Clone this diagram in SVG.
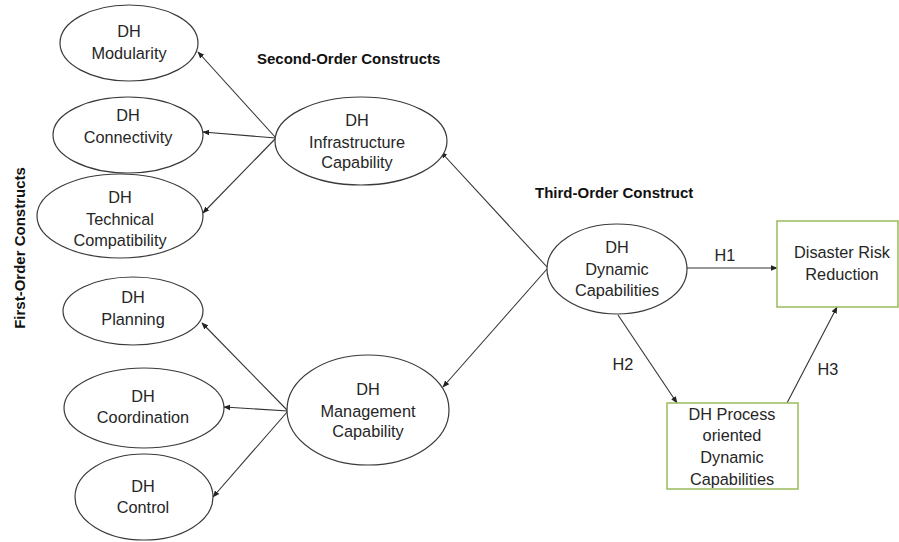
<svg xmlns="http://www.w3.org/2000/svg" width="899" height="542" viewBox="0 0 899 542">
<style>
.bg{fill:#ffffff}
.el{fill:#ffffff;stroke:#3a3a3a;stroke-width:1.2}
.bx{fill:#ffffff;stroke:#9bbb59;stroke-width:1.5}
.t{font-family:"Liberation Sans",Arial,sans-serif;font-size:16.3px;fill:#262626;text-anchor:middle}
.h{font-family:"Liberation Sans",Arial,sans-serif;font-size:15px;font-weight:bold;fill:#111111}
.ln{stroke:#333333;stroke-width:1.1;fill:none;marker-end:url(#ah)}
</style>
<defs>
<marker id="ah" viewBox="0 0 10 10" refX="9" refY="5" markerWidth="7" markerHeight="7" markerUnits="userSpaceOnUse" orient="auto">
<path d="M0,1 L10,5 L0,9 z" fill="#222222"/>
</marker>
</defs>
<rect class="bg" x="0" y="0" width="899" height="542"/>
<g id="labels">
<text class="h" x="257" y="64">Second-Order Constructs</text>
<text class="h" x="535" y="198">Third-Order Construct</text>
<text class="h" transform="translate(25,248) rotate(-90)" text-anchor="middle">First-Order Constructs</text>
</g>
<g id="connectors">
<line class="ln" x1="276" y1="138" x2="198" y2="52"/>
<line class="ln" x1="276" y1="138" x2="203" y2="132"/>
<line class="ln" x1="276" y1="138" x2="203" y2="213"/>
<line class="ln" x1="288" y1="411" x2="202" y2="323"/>
<line class="ln" x1="288" y1="411" x2="224" y2="407"/>
<line class="ln" x1="288" y1="411" x2="213" y2="497"/>
<line class="ln" x1="547" y1="267" x2="441" y2="152"/>
<line class="ln" x1="547" y1="269" x2="443" y2="387"/>
<line class="ln" x1="687" y1="268" x2="777" y2="268"/>
<line class="ln" x1="618" y1="315" x2="677" y2="403"/>
<line class="ln" x1="787" y1="403" x2="837" y2="307"/>
<text class="t" x="725" y="261">H1</text>
<text class="t" x="623" y="370">H2</text>
<text class="t" x="828" y="375">H3</text>
</g>
<g id="modularity">
<ellipse class="el" cx="129" cy="43" rx="69" ry="38"/>
<text class="t" x="129" y="37">DH</text>
<text class="t" x="129" y="59">Modularity</text>
</g>
<g id="connectivity">
<ellipse class="el" cx="128" cy="135" rx="75" ry="38"/>
<text class="t" x="128" y="121">DH</text>
<text class="t" x="128" y="143">Connectivity</text>
</g>
<g id="technical-compatibility">
<ellipse class="el" cx="120" cy="216" rx="83" ry="42"/>
<text class="t" x="120" y="203">DH</text>
<text class="t" x="120" y="225">Technical</text>
<text class="t" x="120" y="246">Compatibility</text>
</g>
<g id="infrastructure-capability">
<ellipse class="el" cx="361" cy="141" rx="86" ry="44"/>
<text class="t" x="357" y="126">DH</text>
<text class="t" x="357" y="148">Infrastructure</text>
<text class="t" x="357" y="168">Capability</text>
</g>
<g id="planning">
<ellipse class="el" cx="133" cy="311" rx="70" ry="34"/>
<text class="t" x="133" y="303">DH</text>
<text class="t" x="133" y="325">Planning</text>
</g>
<g id="coordination">
<ellipse class="el" cx="144" cy="408" rx="80" ry="40"/>
<text class="t" x="143" y="402">DH</text>
<text class="t" x="143" y="423">Coordination</text>
</g>
<g id="control">
<ellipse class="el" cx="144" cy="497" rx="69" ry="43"/>
<text class="t" x="143" y="492">DH</text>
<text class="t" x="143" y="513">Control</text>
</g>
<g id="management-capability">
<ellipse class="el" cx="368" cy="410" rx="81" ry="55"/>
<text class="t" x="368" y="395">DH</text>
<text class="t" x="368" y="417">Management</text>
<text class="t" x="368" y="437">Capability</text>
</g>
<g id="dynamic-capabilities">
<ellipse class="el" cx="617" cy="269" rx="70" ry="45"/>
<text class="t" x="617" y="253">DH</text>
<text class="t" x="617" y="275">Dynamic</text>
<text class="t" x="617" y="296">Capabilities</text>
</g>
<g id="disaster-risk-reduction">
<rect class="bx" x="777" y="221" width="121" height="86"/>
<text class="t" x="842" y="258">Disaster Risk</text>
<text class="t" x="842" y="280">Reduction</text>
</g>
<g id="process-oriented">
<rect class="bx" x="667" y="403" width="131" height="86"/>
<text class="t" x="732" y="420">DH Process</text>
<text class="t" x="732" y="441">oriented</text>
<text class="t" x="732" y="463">Dynamic</text>
<text class="t" x="732" y="485">Capabilities</text>
</g>
</svg>
